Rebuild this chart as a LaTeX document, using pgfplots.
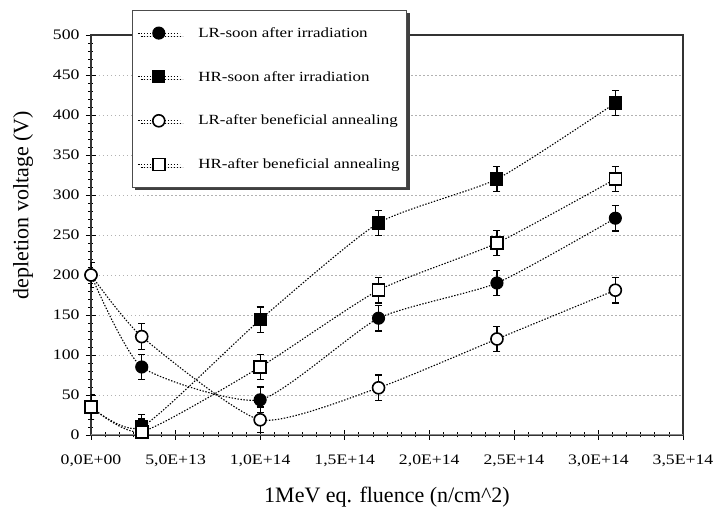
\documentclass[border=0pt]{standalone}
\usepackage{fontspec}
\setmainfont{Liberation Serif}
\newfontfamily\labfont{Liberation Serif}
\newfontfamily\widetick{Liberation Serif}[FakeStretch=1.22]
\newfontfamily\widelegend{Liberation Serif}[FakeStretch=1.21]
\usepackage{pgfplots}
\pgfplotsset{compat=1.18}
\usetikzlibrary{shadows}

\pgfplotsset{
  ser/.style={black, line width=1.1pt, dash pattern=on 1.4pt off 1.6pt, smooth, tension=0.35,
    mark size=6pt,
    error bars/y dir=both, error bars/y fixed=16,
    error bars/error bar style={solid, line width=1.2pt, black},
    error bars/error mark options={rotate=90, mark size=3.5pt, line width=1.2pt, solid, black}},
}

\begin{document}
\begin{tikzpicture}
\useasboundingbox (-91pt,-75pt) rectangle (626pt,435pt);
\begin{axis}[
  scale only axis, width=592pt, height=400pt,
  xmin=0, xmax=35, ymin=0, ymax=500,
  xtick={0,5,10,15,20,25,30,35},
  xticklabels={{0,0E+00},{5,0E+13},{1,0E+14},{1,5E+14},{2,0E+14},{2,5E+14},{3,0E+14},{3,5E+14}},
  ytick={0,50,100,150,200,250,300,350,400,450,500},
  yticklabels={0,50,100,150,200,250,300,350,400,450,500},
  minor x tick num=5, minor y tick num=4,
  tick align=center, major tick length=10pt, minor tick length=5pt,
  tick style={black, line width=0.7pt},
  xtick pos=bottom, ytick pos=left,
  ymajorgrids,
  major grid style={gray!60, dash pattern=on 1.5pt off 2.5pt, line width=0.8pt},
  axis line style={line width=1.3pt, black!80},
  ticklabel style={font=\widetick\fontsize{14.5}{16}\selectfont},
  xticklabel style={yshift=-11pt},
  yticklabel style={xshift=-3pt},
  xlabel={1MeV eq. fluence (n/cm\^{}2)},
  ylabel={depletion voltage (V)},
  xlabel style={at={(axis description cs:0.5,0)}, anchor=center, yshift=-62pt, font=\labfont\fontsize{22}{24}\selectfont},
  ylabel style={at={(axis description cs:0,0.575)}, anchor=center, yshift=68pt, font=\labfont\fontsize{22}{24}\selectfont},
  legend image code/.code={\draw[#1, mark repeat=2, mark phase=2] plot coordinates {(0pt,0pt) (21pt,0pt) (42pt,0pt)};},
  legend style={at={(axis description cs:0.069,1.0625)}, anchor=north west,
    draw=black!70, line width=0.8pt, fill=white,
    drop shadow={shadow xshift=3pt, shadow yshift=-3pt, fill=black!75, opacity=1},
    font=\widelegend\fontsize{14}{16}\selectfont, row sep=28.5pt, column sep=16pt,
    inner xsep=5pt, inner ysep=15pt},
  legend cell align=left,
]
\draw[line width=2.5pt, black!45] (rel axis cs:0,0) -- (rel axis cs:1,0);

\addplot[ser, mark=*, mark options={solid, fill=black}] coordinates {
  (0,200) (3,85) (10,44) (17,146) (24,190) (31,271)};
\addlegendentry{LR-soon after irradiation}

\addplot[ser, mark=square*, mark options={solid, fill=black}] coordinates {
  (0,35) (3,10) (10,144) (17,265) (24,320) (31,415)};
\addlegendentry{HR-soon after irradiation}

\addplot[ser, mark=*, mark options={solid, fill=white, line width=1.6pt}] coordinates {
  (0,200) (3,123) (10,19) (17,59) (24,120) (31,181)};
\addlegendentry{LR-after beneficial annealing}

\addplot[ser, mark=square*, mark options={solid, fill=white, line width=1.6pt}] coordinates {
  (0,35) (3,4) (10,85) (17,181) (24,240) (31,320)};
\addlegendentry{HR-after beneficial annealing}
\end{axis}
\end{tikzpicture}
\end{document}
